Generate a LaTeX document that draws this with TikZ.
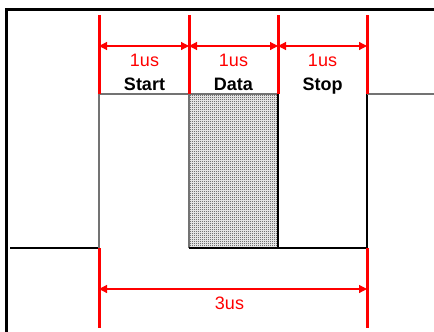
\documentclass[tikz,border=0pt]{standalone}
\usepackage{fontspec}
\setmainfont{Liberation Sans}
\usetikzlibrary{arrows.meta,patterns.meta}
\pgfdeclarepattern{name=finecheck, type=uncolored,
  bottom left={\pgfpoint{0pt}{0pt}}, top right={\pgfpoint{2pt}{2pt}}, tile size={\pgfpoint{2pt}{2pt}},
  code={\pgfpathrectangle{\pgfpoint{0pt}{0pt}}{\pgfpoint{1pt}{1pt}}
        \pgfpathrectangle{\pgfpoint{1pt}{1pt}}{\pgfpoint{1pt}{1pt}}
        \pgfusepath{fill}}}
\tikzset{
  frame/.style={line width=3pt, black},
  hi/.style={line width=1.5pt, black!55},
  lo/.style={line width=1.3pt, black},
  tick/.style={line width=3pt, red},
  dim/.style={line width=1.2pt, red, {Triangle[length=8pt,width=8pt]}-{Triangle[length=8pt,width=8pt]}},
  dimlab/.style={red, font=\fontsize{18}{18}\selectfont, anchor=base, inner sep=0pt},
  bitlab/.style={black, font=\fontsize{18}{18}\selectfont\bfseries, anchor=base, inner sep=0pt}
}
\begin{document}
\begin{tikzpicture}[x=1pt,y=-1pt]
\useasboundingbox (0,0) rectangle (434,332);
% frame
\coordinate (fTL) at (6,9);
\coordinate (fTR) at (434,9);
\coordinate (fBL) at (6,332);
\draw[frame] (fTR) -- (fTL) -- (fBL);
% signal
\coordinate (s0) at (10,248);
\coordinate (s1) at (99,248);
\coordinate (s2) at (99,94);
\coordinate (s3) at (189,94);
\coordinate (s4) at (189,248);
\coordinate (s5) at (278,248);
\coordinate (s6) at (278,94);
\coordinate (s7) at (367,248);
\coordinate (s8) at (367,94);
\coordinate (s9) at (434,94);
\fill[white] (s3) rectangle (s5);
\fill[pattern=finecheck, pattern color=black!85] (s3) rectangle (s5);
\draw[lo] (s0) -- (s1);
\draw[hi] (s1) -- (s2) -- (s3);
\draw[hi] (s3) -- (s4);
\draw[lo] (s4) -- (s5) -- (s7);
\draw[hi] (s3) -- (s6);
\draw[lo] (s5) -- (s6);
\draw[lo] (s7) -- (s8);
\draw[hi] (s8) -- (s9);
% ticks
\coordinate (t1a) at (99,15);  \coordinate (t1b) at (99,94);
\coordinate (t2a) at (189,15); \coordinate (t2b) at (189,94);
\coordinate (t3a) at (278,15); \coordinate (t3b) at (278,94);
\coordinate (t4a) at (367,15); \coordinate (t4b) at (367,94);
\coordinate (b1a) at (99,248); \coordinate (b1b) at (99,328);
\coordinate (b2a) at (367,248); \coordinate (b2b) at (367,328);
\foreach \a/\b in {t1a/t1b,t2a/t2b,t3a/t3b,t4a/t4b,b1a/b1b,b2a/b2b}
  \draw[tick] (\a) -- (\b);
% dimension arrows
\coordinate (d1) at (99,46);
\coordinate (d2) at (189,46);
\coordinate (d3) at (278,46);
\coordinate (d4) at (367,46);
\draw[dim] (d1) -- (d2);
\draw[dim] (d2) -- (d3);
\draw[dim] (d3) -- (d4);
\coordinate (e1) at (99,289);
\coordinate (e2) at (367,289);
\draw[dim] (e1) -- (e2);
% labels
\node[dimlab] (l1) at (144.5,66) {1us};
\node[dimlab] (l2) at (233.5,66) {1us};
\node[dimlab] (l3) at (322.5,66) {1us};
\node[bitlab] (n1) at (144.5,90) {Start};
\node[bitlab] (n2) at (233.5,90) {Data};
\node[bitlab] (n3) at (322.5,90) {Stop};
\node[dimlab] (l4) at (229.5,309) {3us};
\end{tikzpicture}
\end{document}
